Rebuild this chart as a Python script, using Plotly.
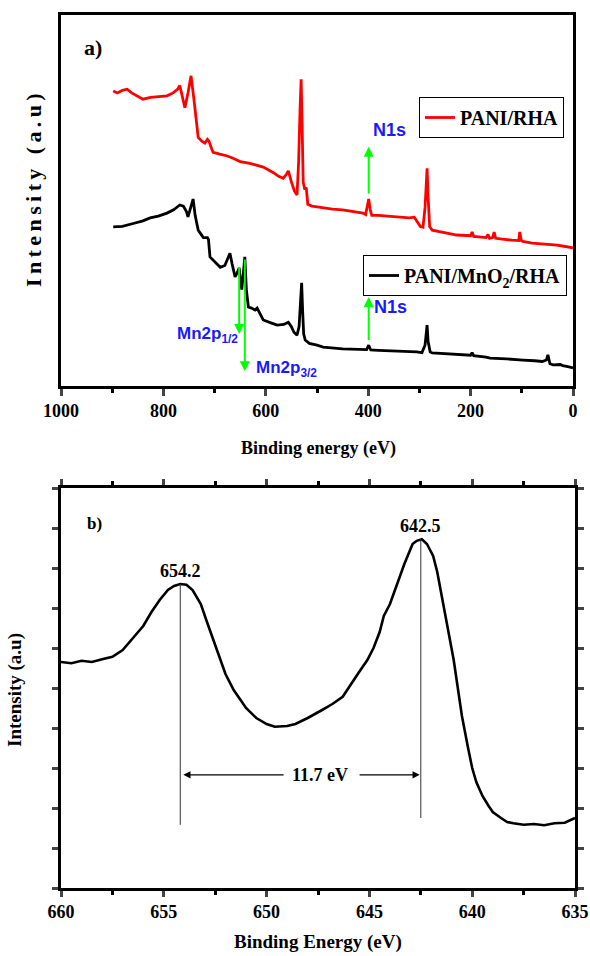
import plotly.graph_objects as go

# ---------------- Panel a) survey spectra ----------------
red_E = [898, 890, 880, 871, 862, 850, 840, 825, 810, 793, 781, 772, 768, 763, 758, 752, 746, 741, 736, 732,
         725, 719, 714, 711, 706, 703, 690, 675, 664, 650, 631, 615, 605, 598, 585, 575, 566, 560, 556, 550,
         544, 539, 536, 533, 531, 529, 527, 524, 521, 518, 510, 500, 488, 470, 450, 422, 410, 405, 402, 399,
         396, 393, 380, 350, 320, 310, 305, 298, 293, 289, 286, 285, 283, 280, 275, 265, 250, 227, 200, 197,
         194, 180, 170, 166, 163, 157, 154, 151, 137, 120, 106, 104, 101, 98, 80, 60, 40, 31, 15, 0]
red_I = [7.95, 7.9, 7.97, 8.0, 7.9, 7.8, 7.73, 7.78, 7.8, 7.82, 7.9, 8.0, 8.1, 7.8, 7.5, 7.9, 8.36, 7.8, 7.1, 6.7,
         6.6, 6.55, 6.65, 6.6, 6.4, 6.3, 6.25, 6.2, 6.14, 6.05, 6.0, 5.95, 5.9, 5.85, 5.75, 5.65, 5.6, 5.7, 5.8, 5.5,
         5.25, 5.15, 6.0, 7.5, 8.27, 7.0, 5.5, 5.3, 5.35, 4.9, 4.85, 4.83, 4.8, 4.77, 4.75, 4.7, 4.66, 4.62, 4.8, 5.04,
         4.75, 4.6, 4.6, 4.57, 4.53, 4.55, 4.45, 4.3, 4.28, 4.8, 5.6, 5.87, 5.1, 4.3, 4.2, 4.17, 4.13, 4.07, 4.05, 4.15,
         4.03, 4.02, 4.0, 4.08, 3.98, 4.0, 4.15, 3.98, 3.95, 3.93, 3.92, 4.15, 3.92, 3.9, 3.85, 3.83, 3.82, 3.8, 3.76, 3.72]

blk_E = [898, 880, 859, 840, 826, 810, 793, 780, 768, 761, 755, 752, 748, 742, 738, 732, 727, 722, 714, 712,
         709, 700, 689, 680, 676, 670, 666, 662, 660, 656, 652, 649, 647, 644, 641, 638, 634, 628, 621, 617,
         612, 605, 590, 578, 565, 556, 550, 545, 539, 535, 532, 530, 528, 526, 523, 515, 500, 488, 450, 410,
         403, 399, 395, 380, 350, 305, 295, 289, 286, 285, 283, 279, 275, 250, 220, 200, 197, 194, 170, 162,
         130, 100, 98, 75, 60, 52, 49, 45, 39, 25, 20, 10, 0]
blk_I = [4.29, 4.3, 4.38, 4.45, 4.53, 4.58, 4.66, 4.75, 4.88, 4.85, 4.7, 4.56, 4.75, 5.04, 4.6, 4.2, 4.1, 4.0, 4.0, 3.95,
         3.48, 3.35, 3.2, 3.25, 3.4, 3.58, 3.3, 3.0, 2.94, 3.05, 3.18, 2.8, 2.6, 3.0, 3.48, 2.6, 2.13, 2.1, 2.05, 2.1,
         1.95, 1.78, 1.7, 1.64, 1.66, 1.72, 1.6, 1.45, 1.37, 1.6, 2.3, 2.78, 2.0, 1.4, 1.24, 1.15, 1.1, 1.05, 1.0, 0.97,
         0.98, 1.1, 0.97, 0.96, 0.95, 0.92, 0.9, 1.1, 1.5, 1.64, 1.2, 0.92, 0.89, 0.87, 0.85, 0.83, 0.9, 0.82, 0.78, 0.75,
         0.73, 0.72, 0.7, 0.68, 0.66, 0.7, 0.84, 0.6, 0.57, 0.58, 0.55, 0.52, 0.49]

a_ticks = [1000, 800, 600, 400, 200, 0]

# ---------------- Panel b) Mn 2p spectrum ----------------
mn_E = [660, 659.5, 659, 658.5, 658, 657.5, 657, 656.8, 656.4, 656, 655.6, 655.2, 654.8, 654.5, 654.2, 653.9,
        653.6, 653.2, 652.9, 652.6, 652.3, 652.0, 651.6, 651.0, 650.5, 650.0, 649.6, 649.0, 648.6, 648.0, 647.3,
        646.8, 646.3, 645.9, 645.5, 645.1, 644.8, 644.5, 644.3, 644.0, 643.8, 643.5, 643.3, 643.1, 642.9, 642.7,
        642.45, 642.2, 641.9, 641.7, 641.4, 641.1, 640.9, 640.7, 640.5, 640.2, 640.0, 639.8, 639.5, 639.2, 639.0,
        638.6, 638.3, 638.0, 637.5, 637.0, 636.5, 636.0, 635.5, 635.0]
mn_I = [5.65, 5.62, 5.68, 5.65, 5.72, 5.78, 5.95, 6.07, 6.3, 6.55, 6.9, 7.2, 7.45, 7.55, 7.6, 7.58,
        7.45, 7.1, 6.65, 6.2, 5.8, 5.35, 4.95, 4.5, 4.25, 4.1, 4.03, 4.05, 4.1, 4.25, 4.45,
        4.6, 4.78, 5.1, 5.4, 5.7, 6.0, 6.4, 6.8, 7.1, 7.4, 7.8, 8.1, 8.35, 8.6, 8.68,
        8.72, 8.6, 8.3, 7.9, 7.1, 6.3, 5.7, 5.0, 4.3, 3.5, 3.0, 2.65, 2.3, 2.05, 1.9,
        1.75, 1.65, 1.62, 1.58, 1.6, 1.57, 1.62, 1.63, 1.75]
b_ticks = [660, 655, 650, 645, 640, 635]
peak_E = [654.2, 642.5]
peak_top = [7.6, 8.72]
peak_bottom = [1.58, 1.75]
split_label = "11.7 eV"

H = 956.0
def py(p):  # pixel row -> paper fraction
    return 1 - p / H

SERIF = "Liberation Serif"
SANS = "Liberation Sans"

fig = go.Figure()
fig.add_trace(go.Scatter(x=red_E, y=red_I, mode="lines", name="PANI/RHA",
                         line=dict(color="#ff0000", width=2.8), xaxis="x", yaxis="y", legend="legend"))
fig.add_trace(go.Scatter(x=blk_E, y=blk_I, mode="lines", name="PANI/MnO<sub>2</sub>/RHA",
                         line=dict(color="#000000", width=2.8), xaxis="x", yaxis="y", legend="legend2"))
fig.add_trace(go.Scatter(x=mn_E, y=mn_I, mode="lines", showlegend=False,
                         line=dict(color="#000000", width=2.6), xaxis="x2", yaxis="y2"))

axis_common = dict(showline=True, linecolor="black", showgrid=False, zeroline=False, automargin=False)

fig.update_layout(
    width=590, height=956,
    margin=dict(l=0, r=0, t=0, b=0, autoexpand=False),
    paper_bgcolor="white", plot_bgcolor="white",
    xaxis=dict(axis_common, domain=[61 / 590, 573 / 590], range=[1000, 0], anchor="y",
               linewidth=2.5, mirror=True, ticks="outside", ticklen=7, tickwidth=2.5,
               tickvals=a_ticks, ticktext=[str(t) for t in a_ticks],
               minor=dict(ticks="outside", dtick=100, ticklen=4, tickwidth=2.5, tickcolor="black"),
               tickfont=dict(family=SERIF, size=18, color="black", weight="bold")),
    yaxis=dict(axis_common, domain=[py(386), py(15)], range=[0, 10], anchor="x",
               linewidth=2.5, mirror=True, showticklabels=False, ticks=""),
    xaxis2=dict(axis_common, domain=[61 / 590, 575 / 590], range=[660, 635], anchor="y2",
                linewidth=2.5, mirror="ticks", ticks="outside", ticklen=6, tickwidth=2.5,
                tickvals=b_ticks, ticktext=[str(t) for t in b_ticks],
                minor=dict(ticks="outside", dtick=2.5, ticklen=4, tickwidth=2.5, tickcolor="black"),
                tickfont=dict(family=SERIF, size=18, color="black", weight="bold")),
    yaxis2=dict(axis_common, domain=[py(888), py(488)], range=[0, 10], anchor="x2",
                linewidth=2.5, mirror="ticks", ticks="outside", ticklen=6, tickwidth=2.5,
                dtick=1, tick0=0, showticklabels=False),
    legend=dict(x=564 / 590, xanchor="right", y=py(97), yanchor="top",
                bordercolor="black", borderwidth=1, bgcolor="white",
                font=dict(family=SERIF, size=20, color="black", weight="bold"), itemwidth=30),
    legend2=dict(x=567 / 590, xanchor="right", y=py(255), yanchor="top",
                 bordercolor="black", borderwidth=1, bgcolor="white",
                 font=dict(family=SERIF, size=20, color="black", weight="bold"), itemwidth=30),
)

def ptext(text, px, pyy, size, angle=0):
    return dict(text=text, x=px / 590, y=py(pyy), xref="paper", yref="paper",
                xanchor="center", yanchor="middle", showarrow=False, textangle=angle,
                font=dict(family=SERIF, size=size, color="black"))

spaced = "\u2009".join("Intensity (a.u)")

ann = []
# axis titles
ann.append(ptext("<b>Binding energy (eV)</b>", 318, 448, 18))
ann.append(ptext("<b>%s</b>" % spaced, 33, 190, 22, -90))
ann.append(ptext("<b>Binding Energy (eV)</b>", 318, 942, 19))
ann.append(ptext("<b>Intensity (a.u)</b>", 15, 690, 19, -90))
# panel labels
ann.append(ptext("<b>a)</b>", 93, 47, 22))
ann.append(ptext("<b>b)</b>", 95, 523, 17))

# green arrows panel a
GREEN = "#00ff00"
BLUE = "#1a1aff"
def garrow(x, y0, y1):
    return dict(x=x, y=y1, ax=x, ay=y0, xref="x", yref="y", axref="x", ayref="y", text="",
                showarrow=True, arrowhead=2, arrowsize=1, arrowwidth=2, arrowcolor=GREEN)
ann.append(garrow(399, 5.15, 6.45))
ann.append(garrow(399, 1.2, 2.4))
ann.append(garrow(652, 3.25, 1.4))
ann.append(garrow(641, 3.45, 0.4))
ann.append(dict(text="<b>N1s</b>", x=395, y=6.9, xref="x", yref="y", xanchor="left", yanchor="middle",
                showarrow=False, font=dict(family=SANS, size=18, color=BLUE)))
ann.append(dict(text="<b>N1s</b>", x=393, y=2.12, xref="x", yref="y", xanchor="left", yanchor="middle",
                showarrow=False, font=dict(family=SANS, size=18, color=BLUE)))
ann.append(dict(text="<b>Mn2p<sub>1/2</sub></b>", x=650, y=1.38, xref="x", yref="y", xanchor="right",
                yanchor="middle", showarrow=False, font=dict(family=SANS, size=17, color=BLUE)))
ann.append(dict(text="<b>Mn2p<sub>3/2</sub></b>", x=624, y=0.45, xref="x", yref="y", xanchor="left",
                yanchor="middle", showarrow=False, font=dict(family=SANS, size=17, color=BLUE)))

# panel b peak labels, split arrows
for e, top in zip(peak_E, peak_top):
    ann.append(dict(text="<b>%.1f</b>" % e, x=e, y=top + 0.33, xref="x2", yref="y2", yanchor="middle",
                    showarrow=False, font=dict(family=SERIF, size=18, color="black")))
mid = (peak_E[0] + peak_E[1]) / 2
ann.append(dict(text="<b>%s</b>" % split_label, x=mid - 0.95, y=2.83, xref="x2", yref="y2",
                yanchor="middle", showarrow=False, font=dict(family=SERIF, size=18, color="black")))
ann.append(dict(x=peak_E[0] - 0.15, y=2.83, ax=mid - 0.75 + 1.5, ay=2.83, xref="x2", yref="y2",
                axref="x2", ayref="y2", text="", showarrow=True, arrowhead=2, arrowsize=1.2,
                arrowwidth=1.2, arrowcolor="black"))
ann.append(dict(x=peak_E[1] + 0.05, y=2.83, ax=mid - 2.8, ay=2.83, xref="x2", yref="y2",
                axref="x2", ayref="y2", text="", showarrow=True, arrowhead=2, arrowsize=1.2,
                arrowwidth=1.2, arrowcolor="black"))

shapes = []
for e, top, bot in zip(peak_E, peak_top, peak_bottom):
    shapes.append(dict(type="line", x0=e, x1=e, y0=bot, y1=top, xref="x2", yref="y2",
                       line=dict(color="#333333", width=1)))

fig.update_layout(annotations=ann, shapes=shapes)
fig.write_html("out.html")
